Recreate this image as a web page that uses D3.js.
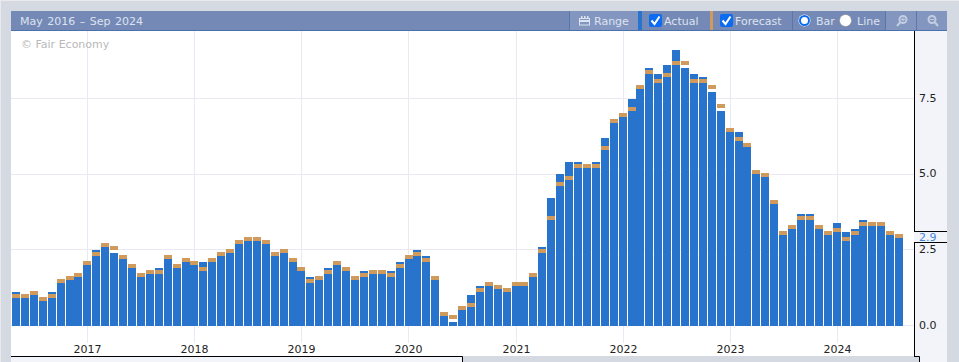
<!DOCTYPE html>
<html>
<head>
<meta charset="utf-8">
<title>May 2016 – Sep 2024</title>
<script src="https://cdn.jsdelivr.net/npm/d3@7"></script>
<style>
  html, body { margin: 0; padding: 0; background: #d5d9e2; overflow: hidden; }
  svg { display: block; }
  text { font-family: "DejaVu Sans", sans-serif; font-size: 11px; }
</style>
</head>
<body>
<div id="chart"></div>
<script>
const actual = [
  1.1, 0.9, 1.0, 0.8, 1.1, 1.4, 1.5, 1.6,
  2.0, 2.5, 2.6, 2.4, 2.2, 1.9, 1.6, 1.7, 1.9, 2.2, 1.9, 2.1,
  2.0, 2.1, 2.1, 2.3, 2.4, 2.7, 2.8, 2.8, 2.7, 2.3, 2.4, 2.1,
  1.8, 1.6, 1.5, 1.9, 2.0, 1.8, 1.5, 1.8, 1.7, 1.7, 1.8, 2.1,
  2.2, 2.5, 2.3, 1.5, 0.3, 0.1, 0.5, 1.0, 1.3, 1.3, 1.2, 1.1,
  1.3, 1.3, 1.6, 2.6, 4.2, 5.0, 5.4, 5.4, 5.2, 5.4, 6.2, 6.7,
  6.9, 7.5, 7.8, 8.5, 8.3, 8.6, 9.1, 8.5, 8.3, 8.2, 7.7, 7.1,
  6.4, 6.4, 5.9, 5.0, 4.9, 4.0, 3.0, 3.2, 3.7, 3.7, 3.2, 3.0,
  3.4, 3.1, 3.2, 3.5, 3.3, 3.3, 3.0, 2.9
];
const forecast = [
  0.9, 0.9, 1.0, 0.8, 0.9, 1.4, 1.5, 1.6,
  2.0, 2.3, 2.6, 2.5, 2.2, 1.9, 1.6, 1.7, 1.7, 2.2, 1.9, 2.1,
  2.0, 1.8, 2.1, 2.3, 2.4, 2.7, 2.8, 2.8, 2.7, 2.3, 2.4, 2.1,
  1.8, 1.4, 1.5, 1.7, 2.0, 1.8, 1.5, 1.6, 1.7, 1.7, 1.6, 1.9,
  2.2, 2.3, 2.1, 1.5, 0.3, 0.2, 0.5, 0.6, 1.1, 1.3, 1.2, 1.1,
  1.3, 1.3, 1.6, 2.4, 3.5, 4.6, 4.8, 5.2, 5.2, 5.2, 5.8, 6.7,
  6.9, 7.1, 7.8, 8.3, 8.0, 8.2, 8.6, 8.6, 8.0, 8.0, 7.8, 7.2,
  6.4, 6.1, 5.9, 5.0, 4.9, 4.0, 3.0, 3.2, 3.5, 3.5, 3.2, 3.0,
  3.1, 2.8, 3.0, 3.3, 3.3, 3.3, 3.0, 2.9
];
const yTicks = [0, 2.5, 5, 7.5];
const yearTicks = [2017, 2018, 2019, 2020, 2021, 2022, 2023, 2024];
const lastLabel = 2.9;

const width = 959;
const height = 362;
const plot = { left: 11, right: 914, top: 31, bottom: 356 };
const gray = '#d5d9e2';
const blue = '#2874cd';
const orange = '#d09a5c';
const gridColor = '#e9e9f3';
const panelColor = '#f3f4f9';
const barBandHeight = 4;

// one band per month, May 2016 up to Sep 2024 (axis runs a month past the last bar)
const months = d3.utcMonth.range(new Date(Date.UTC(2016, 4, 1)), new Date(Date.UTC(2024, 9, 1)));
const monthKey = d => d.getTime();

const xScale = d3.scaleBand()
  .domain(months.map(monthKey))
  .range([12.05, 912.05])
  .paddingInner(0.103)
  .paddingOuter(0)
  .align(0);

const yScale = d3.scaleLinear()
  .domain([0, 7.5])
  .range([325.5, 98.5]);

const yearX = year => Math.round(xScale(Date.UTC(year, 0, 1)) + xScale.bandwidth() / 2 - 0.05) + 0.5;

const svg = d3.select('#chart')
  .append('svg')
  .attr('width', width)
  .attr('height', height);

/* Frame */
svg.append('rect').attr('width', width).attr('height', height).attr('fill', gray);
svg.append('rect').attr('width', width).attr('height', 1).attr('fill', '#e9e9ee');
svg.append('rect').attr('width', 1).attr('height', height).attr('fill', '#e9e9ee');
svg.append('rect').attr('x', plot.left).attr('y', plot.top)
  .attr('width', plot.right - plot.left).attr('height', plot.bottom - plot.top).attr('fill', 'white');
svg.append('rect').attr('x', plot.left).attr('y', plot.bottom)
  .attr('width', 452).attr('height', height - plot.bottom).attr('fill', panelColor);
svg.append('rect').attr('x', plot.right).attr('y', plot.top)
  .attr('width', 33).attr('height', plot.bottom - plot.top).attr('fill', panelColor);
svg.append('rect').attr('x', 919).attr('y', plot.bottom)
  .attr('width', 28).attr('height', height - plot.bottom).attr('fill', panelColor);

/* Grid */
svg.append('g')
  .selectAll('line')
  .data(yTicks)
  .enter()
  .append('line')
  .attr('x1', plot.left)
  .attr('x2', plot.right)
  .attr('y1', d => Math.floor(yScale(d)) + 0.5)
  .attr('y2', d => Math.floor(yScale(d)) + 0.5)
  .attr('stroke', gridColor);

svg.append('g')
  .selectAll('line')
  .data(yearTicks)
  .enter()
  .append('line')
  .attr('x1', yearX)
  .attr('x2', yearX)
  .attr('y1', plot.top)
  .attr('y2', 343)
  .attr('stroke', gridColor);

/* Bars */
const bars = months.slice(0, actual.length).map((month, i) => ({
  key: monthKey(month),
  actual: actual[i],
  forecast: forecast[i]
}));

const barX = d => Math.round(xScale(d.key));

svg.append('g')
  .selectAll('rect')
  .data(bars)
  .enter()
  .append('rect')
  .attr('x', barX)
  .attr('y', d => Math.round(yScale(d.actual)))
  .attr('width', 8)
  .attr('height', d => 326 - Math.round(yScale(d.actual)))
  .attr('fill', blue);

svg.append('g')
  .selectAll('rect')
  .data(bars)
  .enter()
  .append('rect')
  .attr('x', barX)
  .attr('y', d => Math.round(yScale(d.forecast)) - barBandHeight)
  .attr('width', 8)
  .attr('height', barBandHeight)
  .attr('fill', orange);

/* Axes */
svg.append('g')
  .selectAll('text')
  .data(yearTicks)
  .enter()
  .append('text')
  .attr('x', yearX)
  .attr('y', 353)
  .attr('text-anchor', 'middle')
  .attr('fill', '#222')
  .text(d => d);

svg.append('g')
  .selectAll('text')
  .data(yTicks)
  .enter()
  .append('text')
  .attr('x', 919)
  .attr('y', d => yScale(d) + 3)
  .attr('fill', '#222')
  .text(d => d.toFixed(1));

// axis borders, with a gap where the latest value label sits
const blackLines = [
  [plot.right + 0.5, plot.top, plot.right + 0.5, 231.5],
  [plot.right, 231.5, 947, 231.5],
  [plot.right, 242.5, 947, 242.5],
  [plot.right + 0.5, 242.5, plot.right + 0.5, 356.5],
  [plot.right, 356.5, 919.5, 356.5],
  [919.5, 356.5, 919.5, height],
  [plot.left, 356.5, 462.5, 356.5],
  [462.5, 356.5, 462.5, height]
];
svg.append('g')
  .selectAll('line')
  .data(blackLines)
  .enter()
  .append('line')
  .attr('x1', d => d[0])
  .attr('y1', d => d[1])
  .attr('x2', d => d[2])
  .attr('y2', d => d[3])
  .attr('stroke', '#000');

svg.append('text')
  .attr('x', 919)
  .attr('y', 241)
  .attr('fill', '#3d86dc')
  .text(lastLabel.toFixed(1));

svg.append('text')
  .attr('x', 21)
  .attr('y', 48)
  .attr('fill', '#b9b9b9')
  .text('© Fair Economy');

/* Header bar */
const header = svg.append('g');
const headerText = '#dde3f0';

header.append('rect').attr('x', 11).attr('y', 11).attr('width', 936).attr('height', 19).attr('fill', '#7489b5');
header.append('rect').attr('x', 11).attr('y', 30).attr('width', 936).attr('height', 1).attr('fill', '#4c6fae');

header.append('text').attr('x', 20).attr('y', 25).attr('fill', headerText)
  .style('word-spacing', '1px')
  .text('May 2016 – Sep 2024');

// lighter buttons
[[570, 68], [886, 30], [917, 30]].forEach(([x, w]) => {
  header.append('rect').attr('x', x).attr('y', 11).attr('width', w).attr('height', 19).attr('fill', '#8296c0');
});
// separators
[569, 792, 885, 916].forEach(x => {
  header.append('rect').attr('x', x).attr('y', 11).attr('width', 1).attr('height', 19).attr('fill', '#5c76ab');
});
header.append('rect').attr('x', 638).attr('y', 11).attr('width', 4).attr('height', 19).attr('fill', blue);
header.append('rect').attr('x', 710).attr('y', 11).attr('width', 3).attr('height', 19).attr('fill', orange);

// Range icon
header.append('rect').attr('x', 579.5).attr('y', 18.5).attr('width', 10).attr('height', 6.5)
  .attr('fill', 'none').attr('stroke', headerText);
header.append('rect').attr('x', 579).attr('y', 20).attr('width', 11).attr('height', 2).attr('fill', headerText);
[581, 584, 587].forEach(x => {
  header.append('rect').attr('x', x).attr('y', 16).attr('width', 1.5).attr('height', 3).attr('fill', headerText);
});
header.append('text').attr('x', 594).attr('y', 25).attr('fill', headerText).text('Range');

// checkboxes
[[649, 'Actual', 664], [720, 'Forecast', 735]].forEach(([x, label, tx]) => {
  header.append('rect').attr('x', x).attr('y', 14).attr('width', 13).attr('height', 13)
    .attr('rx', 2).attr('fill', '#0b6cf2');
  header.append('path')
    .attr('d', `M${x + 2.5},20.5 L${x + 5.5},24 L${x + 10.5},16.5`)
    .attr('fill', 'none').attr('stroke', 'white').attr('stroke-width', 2);
  header.append('text').attr('x', tx).attr('y', 25).attr('fill', headerText).text(label);
});

// radios
header.append('circle').attr('cx', 804.5).attr('cy', 20.5).attr('r', 6)
  .attr('fill', 'white');
header.append('circle').attr('cx', 804.5).attr('cy', 20.5).attr('r', 4.5)
  .attr('fill', 'white').attr('stroke', '#0b6cf2').attr('stroke-width', 2);
header.append('circle').attr('cx', 845.5).attr('cy', 20.5).attr('r', 6)
  .attr('fill', 'white').attr('stroke', '#8c8c8c').attr('stroke-width', 0.6);
header.append('text').attr('x', 816).attr('y', 25).attr('fill', headerText).text('Bar');
header.append('text').attr('x', 857).attr('y', 25).attr('fill', headerText).text('Line');

// zoom icons, handle goes out to the lower left on plus and lower right on minus
const iconColor = '#c3cde2';
[[903, -1, true], [932, 1, false]].forEach(([cx, side, plus]) => {
  header.append('circle').attr('cx', cx).attr('cy', 19.5).attr('r', 3.5)
    .attr('fill', 'none').attr('stroke', iconColor).attr('stroke-width', 2);
  header.append('line').attr('x1', cx + side * 3).attr('y1', 22.5)
    .attr('x2', cx + side * 6).attr('y2', 26)
    .attr('stroke', iconColor).attr('stroke-width', 2);
  header.append('rect').attr('x', cx - 2).attr('y', 19).attr('width', 4).attr('height', 1).attr('fill', iconColor);
  if (plus) {
    header.append('rect').attr('x', cx - 0.5).attr('y', 17.5).attr('width', 1).attr('height', 4).attr('fill', iconColor);
  }
});
</script>
</body>
</html>
